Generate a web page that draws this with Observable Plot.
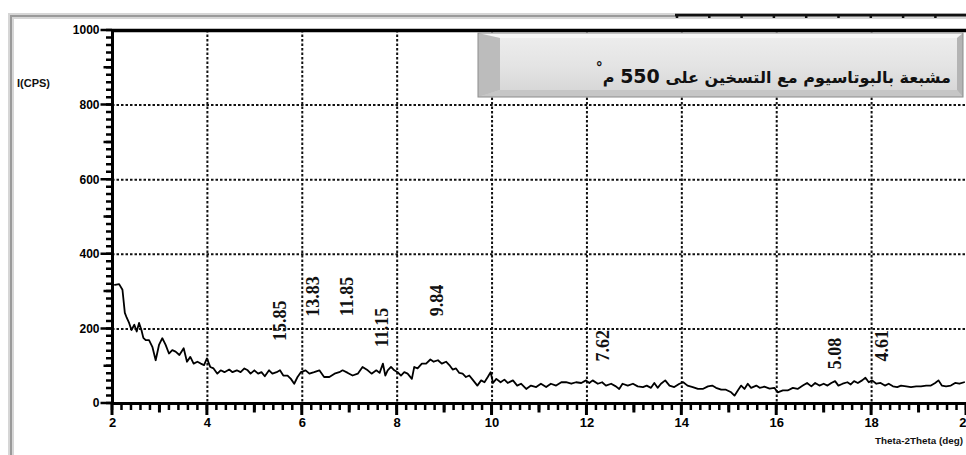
<!DOCTYPE html>
<html><head><meta charset="utf-8">
<script src="https://cdn.jsdelivr.net/npm/d3@7"></script>
<script src="https://cdn.jsdelivr.net/npm/@observablehq/plot@0.6"></script>
<style>
html,body{margin:0;padding:0;background:#fff;}
#wrap{position:relative;width:966px;height:455px;overflow:hidden;}
#title{position:absolute;right:15px;top:64px;direction:rtl;white-space:nowrap;font-family:"DejaVu Sans",sans-serif;font-size:16px;font-weight:bold;color:#111;}
#title sup{font-size:14px;position:relative;top:-5px;}
</style>
</head><body><div id="wrap"></div>
<script>
// two-theta (deg) and intensity (CPS)
const twoTheta = [2.05,2.14,2.21,2.26,2.30,2.35,2.40,2.46,2.51,2.56,2.61,2.65,2.70,2.77,2.84,2.91,2.98,3.05,3.12,3.19,3.26,3.33,3.41,3.50,3.57,3.64,3.71,3.79,3.86,3.93,3.99,4.06,4.13,4.21,4.28,4.36,4.46,4.53,4.62,4.70,4.78,4.85,4.91,4.99,5.07,5.14,5.21,5.30,5.37,5.46,5.53,5.60,5.69,5.76,5.83,5.90,5.97,6.07,6.15,6.25,6.36,6.46,6.57,
6.68,6.78,6.85,6.96,7.06,7.17,7.27,7.38,7.46,7.56,7.63,7.70,7.75,7.80,7.87,7.94,8.01,8.08,8.15,8.22,8.31,8.36,8.43,8.52,8.61,8.70,8.77,8.86,8.94,9.03,9.10,9.17,9.24,9.31,9.38,9.45,9.52,9.59,9.69,9.77,9.84,9.91,9.97,10.02,10.09,10.18,10.26,10.33,10.44,10.53,10.61,10.72,10.82,10.93,11.03,11.14,11.24,11.35,
11.46,11.56,11.67,11.77,11.88,11.98,12.05,12.12,12.23,12.32,12.40,12.51,12.61,12.68,12.75,12.86,12.97,13.07,13.18,13.26,13.35,13.42,13.49,13.56,13.65,13.74,13.84,13.95,14.03,14.12,14.23,14.34,14.44,14.55,14.64,14.72,14.83,14.93,15.04,15.11,15.18,15.25,15.32,15.39,15.46,15.57,15.64,15.74,15.85,
15.95,16.02,16.13,16.23,16.34,16.44,16.55,16.64,16.73,16.81,16.90,16.99,17.07,17.15,17.23,17.30,17.39,17.49,17.56,17.63,17.71,17.80,17.87,17.94,18.01,18.10,18.19,18.28,18.36,18.45,18.54,18.62,18.73,18.83,18.94,19.04,19.15,19.25,19.34,19.41,19.48,19.57,19.67,19.76,19.85,19.95];
const intensity = [318,320,305,243,230,216,197,211,193,216,197,176,170,170,152,116,157,175,157,134,143,139,130,148,112,125,107,112,107,103,121,98,94,80,89,84,91,84,89,84,94,89,80,89,80,84,73,89,80,84,89,75,75,66,53,71,84,89,80,84,89,71,71,
80,84,89,82,75,80,98,89,80,89,82,107,75,89,98,89,84,75,84,80,66,98,94,107,107,118,112,116,107,112,103,91,94,82,80,71,75,64,48,62,57,71,84,55,66,57,64,55,62,48,53,39,48,44,53,44,53,48,
57,57,53,57,55,62,55,62,53,57,48,53,46,39,53,48,53,46,44,48,42,55,42,53,62,48,44,53,57,48,44,39,39,46,48,42,37,37,30,21,35,48,39,53,42,48,42,45,40,
42,30,35,35,42,39,48,55,46,55,48,53,48,55,60,48,53,57,51,60,55,62,69,57,62,53,55,48,53,46,44,48,46,44,46,46,48,48,55,62,48,46,48,55,53,57];

// d-spacing labels of the peaks (Å) and where they sit
const peakLabels = ["15.85","13.83","11.85","11.15","9.84","7.62","5.08","4.61"];
const peakLabelX = [5.53,6.23,6.95,7.68,8.84,12.34,17.23,18.22];
const peakLabelY = [222,287,287,204,276,155,134,155];

const xMajorTicks = [2,4,6,8,10,12,14,16,18,20];
const xGridTicks = [4,6,8,10,12,14,16,18];
const yMajorTicks = [0,200,400,600,800,1000];
const yGridTicks = [200,400,600,800];

const titleText = "مشبعة بالبوتاسيوم مع التسخين على";
const titleTemp = "550";
const titleUnit = "م";
const yTitle = "I(CPS)";
const xTitle = "Theta-2Theta (deg)";

const series = twoTheta.map((t,i)=>({t, v:intensity[i]}));
const peaks = peakLabels.map((s,i)=>({s, x:peakLabelX[i], y:peakLabelY[i]}));
const xMinor = d3.range(2,20.001,0.2).map(v=>+v.toFixed(1));
const xOdd = [3,5,7,9,11,13,15,17,19];
const yMinor = d3.range(0,1001,20);
const yMid = d3.range(100,1000,200);

const axisFont = "'Liberation Sans','Arial',sans-serif";
const dotted = {stroke:"#111", strokeOpacity:1, strokeWidth:2, strokeDasharray:"2.5,2"};

const chart = Plot.plot({
  width:966, height:455,
  marginTop:30, marginBottom:52, marginLeft:112, marginRight:0,
  x:{domain:[2,20], axis:null},
  y:{domain:[0,1000], axis:null},
  marks:[
    Plot.gridX(xGridTicks, dotted),
    Plot.gridY(yGridTicks, dotted),
    Plot.axisX({ticks:xMajorTicks, tickSize:0, tickPadding:14, anchor:"bottom",
      tickFormat:d=>String(d), fontSize:13, fontWeight:"bold", fontFamily:axisFont, fill:"#000", label:null}),
    Plot.axisY({ticks:yMajorTicks, tickSize:0, tickPadding:13, anchor:"left",
      tickFormat:d=>String(d), fontSize:12, fontWeight:"bold", fontFamily:axisFont, fill:"#000", label:null}),
    Plot.ruleY([0], {stroke:"#000", strokeWidth:3}),
    Plot.ruleY([1000], {stroke:"#000", strokeWidth:3.5}),
    Plot.ruleX([2], {stroke:"#000", strokeWidth:3}),
    Plot.line(series, {x:"t", y:"v", stroke:"#000", strokeWidth:1.8, strokeLinejoin:"round"}),
    Plot.text(peaks, {x:"x", y:"y", text:"s", rotate:-90, fontSize:18, fontWeight:"bold",
      fontFamily:"'Liberation Serif','DejaVu Serif',serif", fill:"#111"})
  ]
});
const wrap = document.getElementById("wrap");
wrap.appendChild(chart);

const svg = d3.select(chart);
const sx = chart.scale("x"), sy = chart.scale("y");
const X = v => sx.apply(v), Y = v => sy.apply(v);
const x0 = X(2), y0 = Y(0);

// tick marks placed through the plot's own scales
function xTickPath(vals, len){ let d=""; vals.forEach(v=>{ d += `M${X(v)},${y0}v${len}`; }); return d; }
function yTickPath(vals, len){ let d=""; vals.forEach(v=>{ d += `M${x0},${Y(v)}h${-len}`; }); return d; }
const tickG = svg.append("g").attr("fill","none").attr("stroke","#000");
tickG.append("path").attr("d", xTickPath(xMinor, 7)).attr("stroke-width",2.5);
tickG.append("path").attr("d", xTickPath(xOdd, 9.5)).attr("stroke-width",3);
tickG.append("path").attr("d", xTickPath(xMajorTicks, 12)).attr("stroke-width",3);
tickG.append("path").attr("d", yTickPath(yMinor, 6)).attr("stroke-width",2.5);
tickG.append("path").attr("d", yTickPath(yMid, 8.5)).attr("stroke-width",2.5);
tickG.append("path").attr("d", yTickPath(yMajorTicks, 11.5)).attr("stroke-width",2.5);

// decorations: page frame, title panel, axis titles
const deco = svg.insert("g", ":first-child");
deco.append("path").attr("d","M11,455V16H966").attr("fill","none").attr("stroke","#d6d6d6").attr("stroke-width",6);
deco.append("path").attr("d","M11,455V16H966").attr("fill","none").attr("stroke","#9a9a9a").attr("stroke-width",2);
let edgeD = "M675,15H966";
d3.range(677,966,32.3).forEach(x=>{ edgeD += `M${x},15v3`; });
svg.append("path").attr("d", edgeD).attr("stroke","#111").attr("stroke-width",2.5).attr("fill","none");

const defs = svg.append("defs");
const lg = defs.append("linearGradient").attr("id","pg").attr("x1",0).attr("y1",0).attr("x2",0).attr("y2",1);
lg.append("stop").attr("offset","0").attr("stop-color","#eeeeee");
lg.append("stop").attr("offset","0.5").attr("stop-color","#e4e4e4");
lg.append("stop").attr("offset","1").attr("stop-color","#d4d4d4");
const panel = svg.append("g");
panel.append("rect").attr("x",478).attr("y",33).attr("width",485).attr("height",64).attr("fill","url(#pg)");
panel.append("path").attr("d","M478,33L963,33L957,38L500,38Z").attr("fill","#f6f6f6");
panel.append("path").attr("d","M478,97L500,90L957,90L963,97Z").attr("fill","#c6c6c6");
panel.append("path").attr("d","M478,33L500,38L500,90L478,97Z").attr("fill","#bcbcbc");
panel.append("path").attr("d","M963,33L957,38L957,90L963,97Z").attr("fill","#b4b4b4");
panel.append("rect").attr("x",478).attr("y",33).attr("width",485).attr("height",64).attr("fill","none").attr("stroke","#8c8c8c").attr("stroke-width",1);

svg.append("text").attr("x",17).attr("y",87).attr("text-anchor","start").text(yTitle)
  .attr("font-family",axisFont).attr("font-weight","bold").attr("font-size",11).attr("fill","#111");
svg.append("text").attr("x",875).attr("y",444).attr("text-anchor","start").text(xTitle)
  .attr("textLength",88).attr("lengthAdjust","spacingAndGlyphs")
  .attr("font-family",axisFont).attr("font-weight","bold").attr("font-size",9.5).attr("fill","#111");

const t = document.createElement("div");
t.id = "title";
t.innerHTML = `${titleText} <span style="font-size:19px">${titleTemp}</span> ${titleUnit}<sup>°</sup>`;
wrap.appendChild(t);
</script>
</body></html>
